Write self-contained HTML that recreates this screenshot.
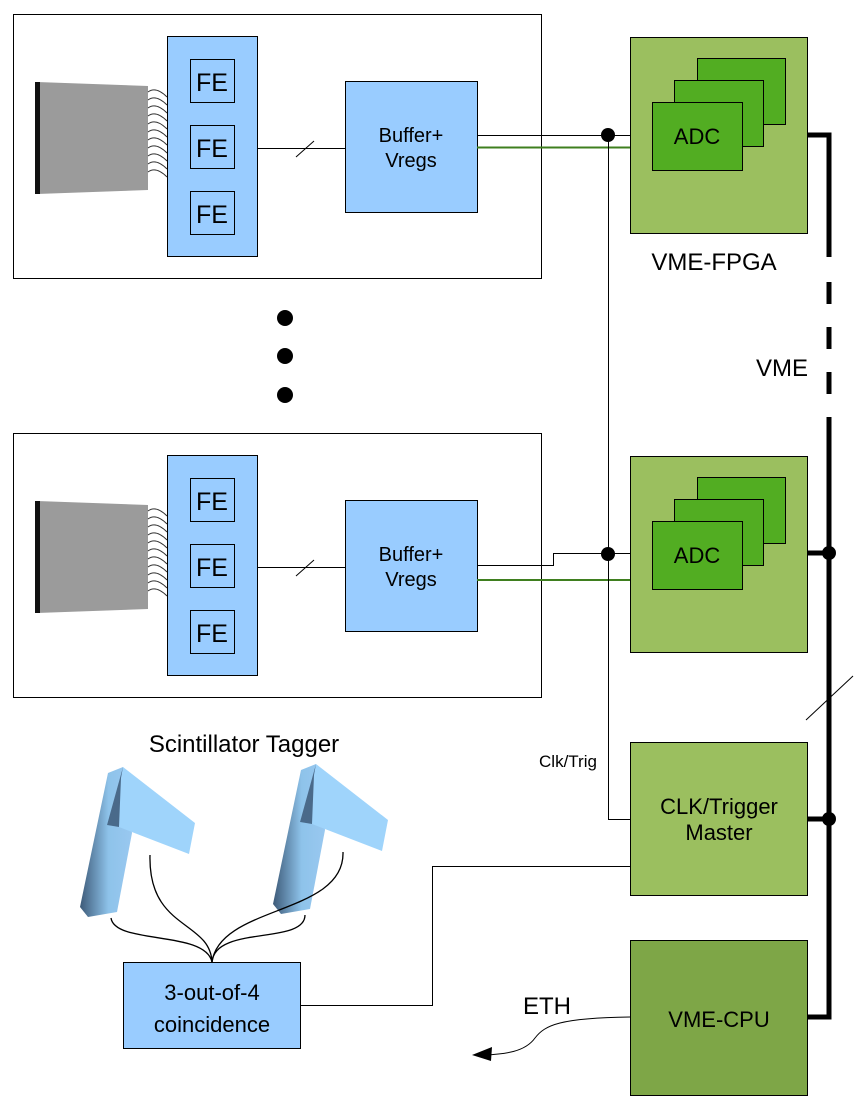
<!DOCTYPE html>
<html><head><meta charset="utf-8"><style>
html,body{margin:0;padding:0;background:#fff}
svg text{font-family:"Liberation Sans",sans-serif}
</style></head><body>
<svg width="860" height="1104" viewBox="0 0 860 1104" xmlns="http://www.w3.org/2000/svg">
<defs>
<linearGradient id="sb" x1="0" y1="0" x2="1" y2="0"><stop offset="0" stop-color="#3d5a78"/><stop offset="0.55" stop-color="#8ec3ea"/><stop offset="1" stop-color="#99c8f0"/></linearGradient>
</defs>
<g id="panel">
<rect x="13.5" y="14.5" width="528" height="264" fill="#fff" stroke="#000" stroke-width="1"/>
<polygon points="37,82 148,86 148,190 37,194" fill="#9b9b9b"/>
<rect x="35" y="82" width="5" height="112" fill="#111"/>
<g fill="none" stroke="#333" stroke-width="1">
<path d="M148,92 q8,-6 19,5"/><path d="M148,100 q8,-6 19,5"/><path d="M148,108 q8,-6 19,5"/><path d="M148,116 q8,-6 19,5"/><path d="M148,124 q8,-6 19,5"/><path d="M148,132 q8,-6 19,5"/><path d="M148,140 q8,-6 19,5"/><path d="M148,148 q8,-6 19,5"/><path d="M148,156 q8,-6 19,5"/><path d="M148,164 q8,-6 19,5"/><path d="M148,172 q8,-6 19,5"/>
</g>
<rect x="167.5" y="36.5" width="90" height="220" fill="#99ccff" stroke="#000"/>
<rect x="190.5" y="59.5" width="44" height="43" fill="#99ccff" stroke="#000"/>
<rect x="190.5" y="125.5" width="44" height="43" fill="#99ccff" stroke="#000"/>
<rect x="190.5" y="191.5" width="44" height="43" fill="#99ccff" stroke="#000"/>
<text x="212" y="91" font-size="25" text-anchor="middle">FE</text>
<text x="212" y="157" font-size="25" text-anchor="middle">FE</text>
<text x="212" y="223" font-size="25" text-anchor="middle">FE</text>
<line x1="257" y1="148.5" x2="345" y2="148.5" stroke="#000"/>
<line x1="296" y1="157" x2="314" y2="141" stroke="#000"/>
<rect x="345.5" y="81.5" width="132" height="131" fill="#99ccff" stroke="#000"/>
<text x="411" y="142" font-size="20" text-anchor="middle">Buffer+</text>
<text x="411" y="167" font-size="20" text-anchor="middle">Vregs</text>
</g>
<use href="#panel" transform="translate(0,419)"/>
<line x1="477" y1="135.5" x2="630" y2="135.5" stroke="#000"/>
<line x1="477" y1="147.5" x2="630" y2="147.5" stroke="#3f7f1f" stroke-width="2"/>
<path d="M477,565.5 H553.5 V553.5 H630" fill="none" stroke="#000"/>
<line x1="477" y1="580" x2="630" y2="580" stroke="#3f7f1f" stroke-width="2"/>
<path d="M608.5,135 V819.5 H630" fill="none" stroke="#000"/>
<circle cx="608" cy="135" r="7"/>
<circle cx="608" cy="554" r="7"/>
<g id="vme">
<rect x="630.5" y="37.5" width="177" height="196" fill="#9bbf5f" stroke="#000"/>
<rect x="697.5" y="58.5" width="88" height="66" fill="#52ad22" stroke="#000"/>
<rect x="674.5" y="80.5" width="89" height="66" fill="#52ad22" stroke="#000"/>
<rect x="652.5" y="102.5" width="90" height="68" fill="#52ad22" stroke="#000"/>
<text x="697" y="144" font-size="22" text-anchor="middle">ADC</text>
</g>
<use href="#vme" transform="translate(0,419)"/>
<text x="714" y="270" font-size="24" text-anchor="middle">VME-FPGA</text>
<rect x="630.5" y="742.5" width="177" height="153" fill="#9bbf5f" stroke="#000"/>
<text x="719" y="814" font-size="22" text-anchor="middle">CLK/Trigger</text>
<text x="719" y="840" font-size="22" text-anchor="middle">Master</text>
<rect x="630.5" y="940.5" width="177" height="155" fill="#7ea647" stroke="#000"/>
<text x="719" y="1027" font-size="22" text-anchor="middle">VME-CPU</text>
<g stroke="#000" stroke-width="5" fill="none">
<path d="M807,135 H829 V257"/>
<line x1="829" y1="282" x2="829" y2="304"/>
<line x1="829" y1="327" x2="829" y2="349"/>
<line x1="829" y1="372" x2="829" y2="394"/>
<path d="M829,417 V1017 H807"/>
<line x1="807" y1="553" x2="829" y2="553"/>
<line x1="807" y1="819" x2="829" y2="819"/>
</g>
<circle cx="829" cy="553" r="7"/>
<circle cx="829" cy="819" r="7"/>
<line x1="806" y1="720" x2="853" y2="676" stroke="#000"/>
<text x="782" y="376" font-size="24" text-anchor="middle">VME</text>
<text x="568" y="767" font-size="17" text-anchor="middle">Clk/Trig</text>
<circle cx="285" cy="318" r="8"/><circle cx="285" cy="356" r="8"/><circle cx="285" cy="395" r="8"/>
<text x="244" y="752" font-size="24" text-anchor="middle">Scintillator Tagger</text>
<g id="sc">
<polygon points="108,773 123,767 132,833 117,912 88,917 80,907" fill="url(#sb)"/>
<polygon points="123,767 195,823 189,854 119,827 107,825" fill="#9fd4fb"/>
<polygon points="123,767 107,825 119,827 121,778" fill="#4a6a8a"/>
</g>
<use href="#sc" transform="translate(193,-3)"/>
<g fill="none" stroke="#000" stroke-width="1.3">
<path d="M150,855 C148,930 210,920 212,962"/>
<path d="M111,918 C115,945 205,930 212,962"/>
<path d="M343,852 C345,915 220,905 212,962"/>
<path d="M305,915 C305,945 215,925 212,962"/>
</g>
<rect x="123.5" y="962.5" width="177" height="86" fill="#99ccff" stroke="#000"/>
<text x="212" y="1000" font-size="22" text-anchor="middle">3-out-of-4</text>
<text x="212" y="1032" font-size="22" text-anchor="middle">coincidence</text>
<path d="M300,1005.5 H432.5 V866.5 H630" fill="none" stroke="#000"/>
<path d="M630,1017 C560,1018 545,1025 535,1038 C525,1052 505,1054 485,1055" fill="none" stroke="#000"/>
<polygon points="472,1055 492,1047 491,1061" fill="#000"/>
<text x="547" y="1014" font-size="24" text-anchor="middle">ETH</text>
</svg>
</body></html>
